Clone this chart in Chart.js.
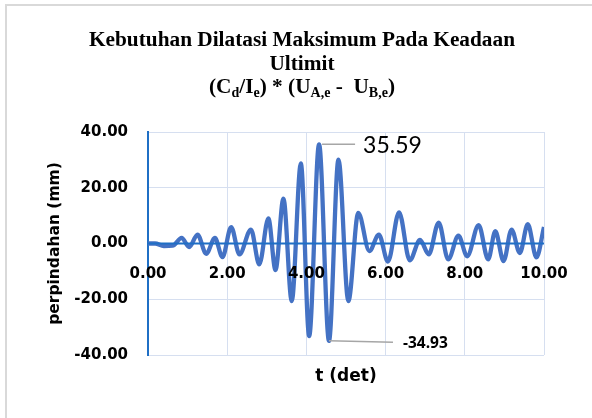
<!DOCTYPE html>
<html>
<head>
<meta charset="utf-8">
<title>Kebutuhan Dilatasi Maksimum Pada Keadaan Ultimit</title>
<script src="https://cdn.jsdelivr.net/npm/chart.js@4.4.1/dist/chart.umd.min.js"></script>
<style>
  html, body { margin: 0; padding: 0; background: #fff; }
  canvas { display: block; }
</style>
</head>
<body>
<canvas id="grafik" width="592" height="418"></canvas>
<script>
// nilai: puncak dan lembah gelombang
const waktu = [0.00, 0.18, 0.40, 0.62, 0.85, 1.04, 1.25, 1.47, 1.69, 1.88,
               2.10, 2.31, 2.60, 2.81, 3.04, 3.22, 3.42, 3.63, 3.86, 4.07,
               4.32, 4.57, 4.81, 5.06, 5.31, 5.59, 5.83, 6.06, 6.34, 6.61,
               6.87, 7.09, 7.34, 7.58, 7.84, 8.06, 8.35, 8.59, 8.77, 8.98,
               9.18, 9.39, 9.59, 9.81, 10.00];
const perpindahan = [0.0, 0.0, -0.9, -0.8, 2.0, -1.3, 3.2, -3.7, 2.0, -4.9,
                     5.9, -3.9, 5.0, -7.5, 9.0, -9.5, 16.1, -20.7, 28.7, -33.2,
                     35.59, -34.93, 30.1, -20.7, 11.0, -2.7, 3.2, -6.5, 11.2, -6.0,
                     1.3, -3.9, 7.5, -5.7, 2.8, -4.6, 6.6, -5.7, 4.4, -6.3,
                     5.0, -3.4, 6.9, -5.0, 5.9];

const xTicks = [0, 2, 4, 6, 8, 10];
const yTicks = [-40, -20, 0, 20, 40];

const judul = ["Kebutuhan Dilatasi Maksimum Pada Keadaan", "Ultimit"];
// baris ketiga: [teks, subskrip?]
const rumus = [["(C", false], ["d", true], ["/I", false], ["e", true], [") * (U", false],
               ["A,e", true], [" -  U", false], ["B,e", true], [")", false]];
const judulX = "t (det)";
const judulY = "perpindahan (mm)";

const biruAxis = "#1f6fc5";
const grid = "#d6dff0";
const fontTick = { family: "DejaVu Sans", weight: "bold", size: 15 };

const bingkai = {
    id: "bingkai",
    beforeDraw(chart) {
        const ctx = chart.ctx;
        ctx.save();
        ctx.fillStyle = "#fff";
        ctx.fillRect(0, 0, chart.width, chart.height);
        ctx.strokeStyle = "#d9d9d9";
        ctx.lineWidth = 2;
        ctx.beginPath();
        ctx.moveTo(6, chart.height);
        ctx.lineTo(6, 5);
        ctx.lineTo(chart.width, 5);
        ctx.stroke();
        ctx.restore();
    }
};

const teksJudul = {
    id: "teksJudul",
    afterDraw(chart) {
        const ctx = chart.ctx;
        const cx = 302;
        ctx.save();
        ctx.fillStyle = "#000";
        ctx.textBaseline = "alphabetic";
        ctx.textAlign = "center";
        ctx.font = 'bold 21.3px "Liberation Serif"';
        judul.forEach((baris, i) => ctx.fillText(baris, cx, 46 + i * 24.3));

        // rumus dengan subskrip
        const fUtama = 'bold 21.3px "Liberation Serif"';
        const fSub = 'bold 14px "Liberation Serif"';
        ctx.textAlign = "left";
        let lebar = 0;
        rumus.forEach(([t, sub]) => {
            ctx.font = sub ? fSub : fUtama;
            lebar += ctx.measureText(t).width;
        });
        let x = cx - lebar / 2;
        rumus.forEach(([t, sub]) => {
            ctx.font = sub ? fSub : fUtama;
            ctx.fillText(t, x, sub ? 97 : 93);
            x += ctx.measureText(t).width;
        });

        // judul sumbu x
        const area = chart.chartArea;
        ctx.textAlign = "center";
        ctx.textBaseline = "middle";
        ctx.font = 'bold 17px "DejaVu Sans"';
        ctx.fillText(judulX, (area.left + area.right) / 2, 377);
        ctx.restore();
    }
};

const labelPuncak = {
    id: "labelPuncak",
    afterDatasetsDraw(chart) {
        const { ctx, chartArea, scales: { x, y } } = chart;
        ctx.save();
        // garis sumbu nol di atas gelombang
        const y0 = y.getPixelForValue(0);
        ctx.strokeStyle = biruAxis;
        ctx.lineWidth = 2;
        ctx.beginPath();
        ctx.moveTo(chartArea.left, y0);
        ctx.lineTo(chartArea.right, y0);
        ctx.stroke();

        // label sumbu x, di atas gelombang seperti aslinya
        ctx.fillStyle = "#000";
        ctx.textAlign = "center";
        ctx.textBaseline = "middle";
        ctx.font = `bold ${fontTick.size}px "${fontTick.family}"`;
        xTicks.forEach(v => ctx.fillText(v.toFixed(2), x.getPixelForValue(v), y0 + 31));

        const iMax = perpindahan.indexOf(Math.max(...perpindahan));
        const iMin = perpindahan.indexOf(Math.min(...perpindahan));

        ctx.strokeStyle = "#a6a6a6";
        ctx.lineWidth = 1.5;
        ctx.textAlign = "left";

        let px = x.getPixelForValue(waktu[iMax]);
        let py = y.getPixelForValue(perpindahan[iMax]);
        ctx.beginPath();
        ctx.moveTo(px + 3, py);
        ctx.lineTo(px + 36, py);
        ctx.stroke();
        ctx.font = '23px "Lato"';
        ctx.fillText(perpindahan[iMax].toFixed(2), px + 44, py + 1);

        px = x.getPixelForValue(waktu[iMin]);
        py = y.getPixelForValue(perpindahan[iMin]);
        ctx.beginPath();
        ctx.moveTo(px, py);
        ctx.lineTo(px + 64, py + 1.5);
        ctx.stroke();
        ctx.font = 'bold 15.5px "Open Sans"';
        ctx.fillText(perpindahan[iMin].toFixed(2), px + 74, py + 2.5);
        ctx.restore();
    }
};

new Chart(document.getElementById("grafik"), {
    type: "line",
    data: {
        datasets: [{
            data: waktu.map((t, i) => ({ x: t, y: perpindahan[i] })),
            borderColor: "#4472c4",
            borderWidth: 4.3,
            pointRadius: 0,
            fill: false,
            cubicInterpolationMode: "monotone"
        }]
    },
    options: {
        responsive: false,
        animation: false,
        layout: { padding: { top: 132, left: 30, right: 48, bottom: 63 } },
        plugins: {
            legend: { display: false },
            tooltip: { enabled: false },
            title: { display: false }
        },
        scales: {
            x: {
                type: "linear",
                position: { y: 0 },
                min: 0,
                max: 10,
                afterBuildTicks: s => { s.ticks = xTicks.map(v => ({ value: v })); },
                grid: { color: grid, drawTicks: false },
                border: { display: false },
                ticks: { display: false }
            },
            y: {
                type: "linear",
                min: -40,
                max: 40,
                afterBuildTicks: s => { s.ticks = yTicks.map(v => ({ value: v })); },
                afterFit: s => { s.width = 118; },
                grid: { color: grid, drawTicks: false },
                border: { color: biruAxis, width: 2 },
                ticks: {
                    padding: 20,
                    color: "#000",
                    font: fontTick,
                    callback: v => Number(v).toFixed(2)
                },
                title: {
                    display: true,
                    text: judulY,
                    color: "#000",
                    font: { family: "DejaVu Sans", weight: "bold", size: 15.5 },
                    padding: { top: 16, bottom: 0 }
                }
            }
        }
    },
    plugins: [bingkai, teksJudul, labelPuncak]
});
</script>
</body>
</html>
